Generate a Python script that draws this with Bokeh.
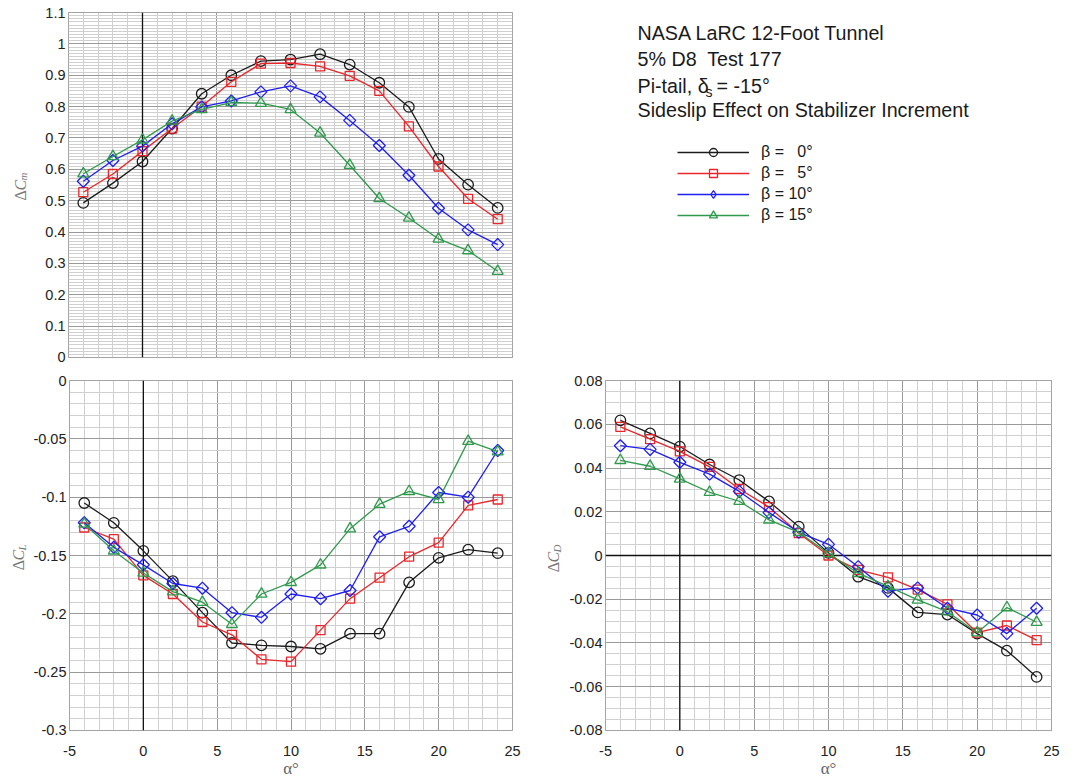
from bokeh.plotting import figure
from bokeh.layouts import column, row
from bokeh.models import (Range1d, SingleIntervalTicker, PrintfTickFormatter, Span,
                          Legend, LegendItem)
from bokeh.core.properties import value
from bokeh.embed import file_html
from bokeh.resources import INLINE

# ---------------- data ----------------
alpha = [-4, -2, 0, 2, 4, 6, 8, 10, 12, 14, 16, 18, 20, 22, 24]
beta_labels = ["β = \u20070°", "β = \u20075°", "β = 10°", "β = 15°"]

dCm_b0 = [0.493, 0.556, 0.625, 0.730, 0.841, 0.900, 0.945, 0.950, 0.967, 0.934, 0.876, 0.799, 0.633, 0.551, 0.477]
dCm_b5 = [0.527, 0.585, 0.658, 0.730, 0.800, 0.879, 0.937, 0.939, 0.928, 0.898, 0.850, 0.737, 0.609, 0.506, 0.441]
dCm_b10 = [0.562, 0.628, 0.674, 0.745, 0.799, 0.818, 0.847, 0.866, 0.831, 0.756, 0.676, 0.581, 0.476, 0.407, 0.360]
dCm_b15 = [0.586, 0.641, 0.694, 0.754, 0.791, 0.813, 0.811, 0.791, 0.716, 0.613, 0.507, 0.445, 0.378, 0.341, 0.275]

dCL_b0 = [-0.105, -0.122, -0.146, -0.172, -0.199, -0.225, -0.227, -0.228, -0.230, -0.217, -0.217, -0.173, -0.152, -0.145, -0.148]
dCL_b5 = [-0.126, -0.136, -0.167, -0.183, -0.207, -0.218, -0.239, -0.241, -0.214, -0.187, -0.169, -0.151, -0.139, -0.107, -0.102]
dCL_b10 = [-0.122, -0.143, -0.158, -0.174, -0.178, -0.199, -0.203, -0.183, -0.187, -0.180, -0.134, -0.125, -0.096, -0.100, -0.060]
dCL_b15 = [-0.123, -0.146, -0.165, -0.181, -0.190, -0.209, -0.183, -0.173, -0.158, -0.127, -0.106, -0.095, -0.102, -0.052, -0.061]

dCD_b0 = [0.0618, 0.0558, 0.0498, 0.0416, 0.0345, 0.0247, 0.0132, 0.0012, -0.0097, -0.0148, -0.0260, -0.0270, -0.0357, -0.0435, -0.0555]
dCD_b5 = [0.0588, 0.0532, 0.0476, 0.0405, 0.0304, 0.0221, 0.0102, 0.0000, -0.0066, -0.0100, -0.0156, -0.0223, -0.0353, -0.0320, -0.0387]
dCD_b10 = [0.0502, 0.0485, 0.0426, 0.0372, 0.0293, 0.0196, 0.0106, 0.0051, -0.0051, -0.0163, -0.0148, -0.0241, -0.0272, -0.0357, -0.0241]
dCD_b15 = [0.0435, 0.0408, 0.0350, 0.0289, 0.0248, 0.0163, 0.0106, 0.0009, -0.0081, -0.0141, -0.0203, -0.0257, -0.0353, -0.0238, -0.0305]

title_lines = ["NASA LaRC 12-Foot Tunnel", "5% D8\u00a0 Test 177", "Sideslip Effect on Stabilizer Increment"]

# ---------------- styles ----------------
colors = ["#1c1c1c", "#e8262b", "#1f1ff0", "#2f9a4c"]
markers = ["circle", "square", "square", "triangle"]
legend_markers = ["circle", "square", "diamond", "triangle"]
mangles = [0, 0, 0.7854, 0]
msizes = [10.5, 9, 8.5, 11]
SANS = "Liberation Sans"
SERIF = "Liberation Serif"
TICK_FS = "14.5px"

# page geometry (row frames are aligned by Bokeh, so side panels share borders)
H1 = 370            # top row height
H2 = 410            # bottom row height
TOP_B = (12, 13)    # top row: border top / bottom
BOT_B = (10, 44)    # bottom row: border top / bottom
EPS = 1e-7


def make_fig(width, height, yr, yint, yminor, mb, show_x):
    p = figure(width=width, height=height, x_range=Range1d(-5 - EPS, 25 + EPS),
               y_range=Range1d(yr[0] - EPS, yr[1] + EPS),
               output_backend="svg", toolbar_location=None,
               min_border_left=mb[0], min_border_right=mb[1],
               min_border_top=mb[2], min_border_bottom=mb[3])
    p.outline_line_color = "#8a8a8a"
    p.outline_line_width = 1
    xt = SingleIntervalTicker(interval=5, num_minor_ticks=5)
    yt = SingleIntervalTicker(interval=yint, num_minor_ticks=yminor)
    p.xaxis.ticker = xt
    p.yaxis.ticker = yt
    p.xgrid.ticker = xt
    p.ygrid.ticker = yt
    for g in (p.xgrid, p.ygrid):
        g.grid_line_color = "#9a9a9a"
        g.grid_line_width = 1
        g.minor_grid_line_color = "#d0d0d0"
        g.minor_grid_line_width = 1
    for ax in (p.xaxis, p.yaxis):
        ax.axis_line_color = None
        ax.major_tick_line_color = None
        ax.minor_tick_line_color = None
        ax.major_label_text_font = SANS
        ax.major_label_text_font_size = TICK_FS
        ax.major_label_text_color = "#222222"
    p.yaxis.major_tick_out = 0
    p.yaxis.minor_tick_out = 0
    p.yaxis.major_label_standoff = 3
    p.xaxis.major_label_standoff = 9
    p.yaxis.formatter = PrintfTickFormatter(format="%.6g")
    p.xaxis.formatter = PrintfTickFormatter(format="%.6g")
    if show_x:
        p.xaxis.axis_label = "α°"
        p.xaxis.axis_label_text_font = SERIF
        p.xaxis.axis_label_text_font_style = "normal"
        p.xaxis.axis_label_text_font_size = "17px"
        p.xaxis.axis_label_text_color = "#666666"
        p.xaxis.axis_label_standoff = 0
    else:
        p.xaxis.visible = False
    vspan = Span(location=0, dimension="height", line_color="#111111", line_width=1.3)
    vspan.level = "underlay"
    p.add_layout(vspan)
    return p


def add_series(p, ys):
    for y, c, m, a, s in zip(ys, colors, markers, mangles, msizes):
        p.line(alpha, y, line_color=c, line_width=1.3)
        p.scatter(alpha, y, marker=m, angle=a, size=s, line_color=c, line_width=1.3, fill_color=None)


def panel_fig(width, height, page_y0, borders):
    """Figure whose data coordinates equal page pixel coordinates (y downward)."""
    top = page_y0 + borders[0]
    bottom = page_y0 + height - borders[1]
    f = figure(width=width, height=height, x_range=Range1d(0, width), y_range=Range1d(bottom, top),
               output_backend="svg", toolbar_location=None, x_axis_location=None, y_axis_location=None,
               min_border_left=0, min_border_right=0,
               min_border_top=borders[0], min_border_bottom=borders[1])
    f.grid.visible = False
    f.outline_line_color = None
    return f


def label_fig(width, height, page_y0, borders, cx, y_start, sub):
    lf = panel_fig(width, height, page_y0, borders)
    common = dict(angle=1.5708, text_align="left", text_baseline="middle",
                  text_font=value(SERIF), text_color="#777777")
    lf.text(x=[cx], y=[y_start], text=["Δ"], text_font_size="16px", **common)
    lf.text(x=[cx], y=[y_start - 10], text=["C"], text_font_size="16px",
            text_font_style="italic", **common)
    lf.text(x=[cx + 3], y=[y_start - 20], text=[sub], text_font_size="11px",
            text_font_style="italic", **common)
    return lf


# top-left: delta Cm
tl_lab = label_fig(30, H1, 0, TOP_B, 19.5, 200, "m")
tl = make_fig(510, H1, (0, 1.1), 0.1, 10, (38, 28) + TOP_B, False)
add_series(tl, [dCm_b0, dCm_b5, dCm_b10, dCm_b15])

# bottom-left: delta CL
bl_lab = label_fig(30, H2, H1, BOT_B, 18, 573, "L")
bl = make_fig(510, H2, (-0.3, 0), 0.05, 5, (38, 28) + BOT_B, True)
add_series(bl, [dCL_b0, dCL_b5, dCL_b10, dCL_b15])

# bottom-right: delta CD
br_lab = label_fig(26, H2, H1, BOT_B, 13, 575, "D")
br = make_fig(512, H2, (-0.08, 0.08), 0.02, 4, (36, 27) + BOT_B, True)
add_series(br, [dCD_b0, dCD_b5, dCD_b10, dCD_b15])
hspan = Span(location=0, dimension="width", line_color="#111111", line_width=1.3)
hspan.level = "underlay"
br.add_layout(hspan)

# top-right: annotation text and legend
tx = panel_fig(538, H1, 0, TOP_B)

TX0 = 97
FS = "19.7px"
tcommon = dict(text_font=value(SANS), text_color="#1a1a1a", text_baseline="middle", text_align="left")
for txt, yc in zip(title_lines, [32.8, 58.5, 109]):
    tx.text(x=[TX0], y=[yc], text=[txt], text_font_size=FS, **tcommon)
tx.text(x=[TX0], y=[85], text=["Pi-tail, δ"], text_font_size=FS, **tcommon)
tx.text(x=[TX0 + 68], y=[91.5], text=["s"], text_font_size="14px", **tcommon)
tx.text(x=[TX0 + 79], y=[85], text=["= -15°"], text_font_size=FS, **tcommon)

items = []
for lab, c, m in zip(beta_labels, colors, legend_markers):
    # one off-frame point each so the legend can draw its line and marker sample
    lr = tx.line(x=[-1000, -999], y=[-1000, -1000], line_color=c, line_width=1.3)
    sr = tx.scatter(x=[-1000], y=[-1000], marker=m, line_color=c, line_width=1.3, fill_color=None)
    items.append(LegendItem(label=lab, renderers=[lr, sr]))
legend = Legend(items=items, location=(137, 132), glyph_width=72, glyph_height=20,
                label_height=20, label_standoff=12, spacing=1, padding=0, margin=0,
                border_line_color=None, background_fill_alpha=0,
                label_text_font=SANS, label_text_font_size="16px", label_text_color="#1a1a1a")
tx.add_layout(legend)

layout = column(row(tl_lab, tl, tx), row(bl_lab, bl, br_lab, br))

with open("out.html", "w") as f:
    f.write(file_html(layout, INLINE))
